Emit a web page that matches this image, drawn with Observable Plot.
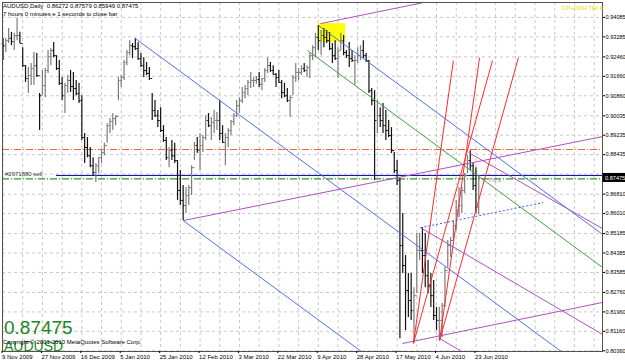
<!DOCTYPE html>
<html><head><meta charset="utf-8">
<script src="https://cdn.jsdelivr.net/npm/d3@7"></script>
<script src="https://cdn.jsdelivr.net/npm/@observablehq/plot@0.6"></script>
<style>
body{margin:0;background:#fff;}
#chart{position:relative;width:625px;height:363px;overflow:hidden;}
</style></head><body><div id="chart"></div>
<script>
// ---- data (AUDUSD daily, 9 Nov 2009 .. 24 Jun 2010), bar index 0..169 ----
const firstOpen = 0.9300;
const highs = [
0.9322,0.9322,0.9363,0.9347,0.9343,0.9404,0.9347,0.9284,0.9210,0.9202,
0.9219,0.9264,0.9260,0.9095,0.9190,0.9198,0.9272,0.9280,0.9305,0.9251,
0.9231,0.9161,0.9137,0.9169,0.9190,0.9182,0.9149,0.9137,0.9086,0.8931,
0.8914,0.8873,0.8831,0.8807,0.8831,0.8860,0.8890,0.8972,0.8992,0.9013,
0.9004,0.9161,0.9169,0.9231,0.9272,0.9313,0.9301,0.9322,0.9305,0.9260,
0.9243,0.9223,0.9202,0.9095,0.9066,0.9025,0.9037,0.8963,0.8914,0.8873,
0.8902,0.8890,0.8819,0.8778,0.8716,0.8708,0.8716,0.8798,0.8894,0.8914,
0.8931,0.8922,0.9004,0.9013,0.8996,0.9025,0.9017,0.9066,0.8963,0.8931,
0.8951,0.8984,0.9013,0.9066,0.9078,0.9120,0.9128,0.9149,0.9182,0.9161,
0.9165,0.9182,0.9157,0.9198,0.9243,0.9223,0.9210,0.9178,0.9190,0.9149,
0.9137,0.9116,0.9086,0.9169,0.9219,0.9198,0.9210,0.9219,0.9210,0.9260,
0.9292,0.9343,0.9375,0.9355,0.9363,0.9355,0.9347,0.9301,0.9313,0.9284,
0.9343,0.9334,0.9272,0.9305,0.9272,0.9251,0.9284,0.9292,0.9313,0.9260,
0.9231,0.9116,0.9107,0.9066,0.9037,0.9054,0.9025,0.8984,0.8955,0.8852,
0.8819,0.8745,0.8601,0.8428,0.8354,0.8354,0.8296,0.8519,0.8519,0.8543,
0.8519,0.8408,0.8354,0.8325,0.8214,0.8214,0.8231,0.8379,0.8490,0.8502,
0.8572,0.8655,0.8708,0.8708,0.8766,0.8839,0.8860,0.8807,0.8790,0.87579];
const lows = [
0.9231,0.9264,0.9301,0.9292,0.9272,0.9313,0.9301,0.9202,0.9141,0.9095,
0.9128,0.9128,0.9161,0.8943,0.9086,0.9078,0.9178,0.9210,0.9243,0.9190,
0.9128,0.9066,0.9013,0.9095,0.9099,0.9066,0.9086,0.9054,0.8902,0.8807,
0.8831,0.8790,0.8757,0.8729,0.8766,0.8807,0.8839,0.8890,0.8931,0.8943,
0.8963,0.9066,0.9120,0.9149,0.9210,0.9251,0.9239,0.9272,0.9231,0.9202,
0.9161,0.9169,0.9149,0.8984,0.8996,0.8955,0.8935,0.8894,0.8819,0.8790,
0.8819,0.8807,0.8655,0.8634,0.8572,0.8601,0.8634,0.8675,0.8819,0.8848,
0.8778,0.8852,0.8902,0.8955,0.8902,0.8931,0.8943,0.8902,0.8890,0.8798,
0.8873,0.8922,0.8963,0.8996,0.9013,0.9054,0.9074,0.9086,0.9116,0.9120,
0.9133,0.9120,0.9107,0.9141,0.9178,0.9182,0.9169,0.9120,0.9137,0.9074,
0.9078,0.9058,0.8996,0.9086,0.9141,0.9149,0.9169,0.9182,0.9161,0.9157,
0.9231,0.9243,0.9272,0.9251,0.9284,0.9301,0.9272,0.9219,0.9231,0.9157,
0.9272,0.9251,0.9239,0.9202,0.9223,0.9128,0.9219,0.9231,0.9239,0.9223,
0.9095,0.9045,0.8737,0.8931,0.8955,0.8931,0.8902,0.8914,0.8848,0.8766,
0.8716,0.8086,0.8354,0.8119,0.8173,0.8161,0.8066,0.8272,0.8408,0.8354,
0.8296,0.8272,0.8214,0.8161,0.8119,0.8078,0.8090,0.8214,0.8379,0.8420,
0.8490,0.8531,0.8584,0.8601,0.8684,0.8766,0.8778,0.8696,0.8601,0.85949];
const closes = [
0.9292,0.9313,0.9322,0.9309,0.9334,0.9334,0.9301,0.9210,0.9157,0.9169,
0.9198,0.9210,0.9169,0.9086,0.9128,0.9190,0.9247,0.9272,0.9251,0.9198,
0.9137,0.9086,0.9128,0.9149,0.9124,0.9116,0.9095,0.9066,0.8914,0.8873,
0.8839,0.8798,0.8770,0.8798,0.8831,0.8852,0.8881,0.8963,0.8980,0.8992,
0.9000,0.9149,0.9161,0.9223,0.9264,0.9292,0.9288,0.9280,0.9239,0.9210,
0.9190,0.9178,0.9157,0.9025,0.9004,0.8984,0.8943,0.8902,0.8831,0.8860,
0.8839,0.8819,0.8696,0.8655,0.8634,0.8675,0.8708,0.8790,0.8881,0.8860,
0.8881,0.8914,0.8984,0.8963,0.8976,0.8984,0.8984,0.8931,0.8894,0.8914,
0.8943,0.8980,0.9004,0.9045,0.9066,0.9099,0.9116,0.9141,0.9149,0.9149,
0.9153,0.9133,0.9157,0.9190,0.9210,0.9190,0.9174,0.9161,0.9141,0.9099,
0.9086,0.9066,0.9078,0.9161,0.9182,0.9182,0.9198,0.9190,0.9202,0.9251,
0.9284,0.9326,0.9313,0.9334,0.9326,0.9313,0.9280,0.9251,0.9239,0.9272,
0.9313,0.9264,0.9251,0.9239,0.9231,0.9231,0.9251,0.9272,0.9251,0.9231,
0.9107,0.9066,0.8984,0.9004,0.8984,0.8963,0.8943,0.8922,0.8860,0.8778,
0.8737,0.8469,0.8387,0.8284,0.8243,0.8202,0.8263,0.8449,0.8449,0.8428,
0.8345,0.8304,0.8263,0.8181,0.8161,0.8161,0.8222,0.8366,0.8469,0.8490,
0.8551,0.8613,0.8634,0.8696,0.8757,0.8819,0.8798,0.8716,0.8627,0.87475];

const dateLabels = ["9 Nov 2009","27 Nov 2009","16 Dec 2009","5 Jan 2010","25 Jan 2010","12 Feb 2010",
  "3 Mar 2010","22 Mar 2010","9 Apr 2010","28 Apr 2010","17 May 2010","4 Jun 2010","23 Jun 2010"];
const dateLabelBars = [0,14,28,42,56,70,84,98,112,126,140,154,168];
const priceGrid = [0.94085,0.93285,0.92460,0.91660,0.90860,0.90035,0.89235,0.88435,0.87635,
  0.86810,0.86010,0.85185,0.84385,0.83585,0.82760,0.81960,0.81160,0.80360];
// 0.87635 is hidden behind the current-price box, so it carries no label
const priceLabels = [0.94085,0.93285,0.92460,0.91660,0.90860,0.90035,0.89235,0.88435,
  0.86810,0.86010,0.85185,0.84385,0.83585,0.82760,0.81960,0.81160,0.80360];
const gridBars = [0,7,14,21,28,35,42,49,56,63,70,77,84,91,98,105,112,119,126,133,140,147,154,161,168,175,182,189,196,203,210];

// drawn objects (bar index, price)
const blueLines = [
  {i1:112.1,p1:0.9375,i2:213,p2:0.8515},
  {i1:47,p1:0.9322,i2:213,p2:0.7908},
  {i1:64,p1:0.8572,i2:213,p2:0.7303}];
const greenLines = [{i1:108.2,p1:0.9272,i2:213,p2:0.8379}];
const magentaLines = [
  {i1:64,p1:0.8572,i2:213,p2:0.8918},
  {i1:112.8,p1:0.9383,i2:213,p2:0.9621},
  {i1:148.3,p1:0.8543,i2:213,p2:0.8103},
  {i1:141.9,p1:0.8066,i2:213,p2:0.8235},
  {i1:165.4,p1:0.8852,i2:213,p2:0.8539},
  {i1:155,p1:0.8087,i2:213,p2:0.7695}];
const redLines = [
  {i1:145.8,p1:0.8066,i2:160.0,p2:0.9231},
  {i1:145.8,p1:0.8066,i2:173.9,p2:0.9231},
  {i1:155.1,p1:0.8078,i2:169.3,p2:0.9243},
  {i1:155.1,p1:0.8078,i2:183.1,p2:0.9243}];
const dottedLines = [{i1:148.3,p1:0.8543,i2:191.9,p2:0.8646}];
const yellowBox = [{i1:112.1,i2:121.7,p1:0.9383,p2:0.9305}];
const orderPrice = 0.8744, navyPrice = 0.8758, orangePrice = 0.8865, navyStart = 19;
const lastPrice = 0.87475;

const bars = highs.map((h,i)=>({i, high:h, low:lows[i], close:closes[i], open: i===0?firstOpen:closes[i-1]}));
const upC = "#7c7c7c", dnC = "#111";
const col = d => d.close >= d.open ? upC : dnC;
const link = (data, stroke, extra={}) => Plot.link(data, {x1:"i1",y1:"p1",x2:"i2",y2:"p2",stroke,strokeWidth:1,clip:true,...extra});

const plot = Plot.plot({
  width:625, height:363,
  marginLeft:2, marginRight:23, marginTop:2, marginBottom:12,
  x:{type:"linear", domain:[-0.18,212.97]},
  y:{type:"linear", domain:[0.8033,0.9470]},
  style:{fontFamily:"'Liberation Sans',Arial,sans-serif", fontSize:"6px", background:"#fff", color:"#000"},
  marks:[
    Plot.ruleY(priceGrid,{stroke:"#c8c8c8",strokeDasharray:"3,3"}),
    Plot.ruleX(gridBars,{stroke:"#c8c8c8",strokeDasharray:"3,3"}),
    Plot.rect(yellowBox,{x1:"i1",x2:"i2",y1:"p1",y2:"p2",fill:"#ffff00"}),
    Plot.ruleY([orangePrice],{stroke:"#f06838",strokeDasharray:"7,2,1,2",strokeWidth:1.1}),
    Plot.ruleY([navyPrice],{x1:navyStart,x2:212.97,stroke:"#0000a8",strokeWidth:1}),
    Plot.ruleY([orderPrice],{stroke:"#22a022",strokeDasharray:"7,2,1,2",strokeWidth:1.2}),
    Plot.ruleX(bars,{x:"i",y1:"low",y2:"high",stroke:col,strokeWidth:1.2}),
    Plot.link(bars,{x1:d=>d.i-0.5,x2:"i",y1:"open",y2:"open",stroke:col,strokeWidth:1}),
    Plot.link(bars,{x1:"i",x2:d=>d.i+0.5,y1:"close",y2:"close",stroke:col,strokeWidth:1}),
    link(blueLines,"#5070f0"),
    link(greenLines,"#40a040"),
    link(magentaLines,"#b050c0"),
    link(redLines,"#ff2a2a"),
    link(dottedLines,"#4060f0",{strokeDasharray:"2,2"}),
    Plot.frame({stroke:"#505050"}),
    Plot.axisY({anchor:"right",ticks:priceLabels,tickFormat:d=>d.toFixed(5),tickSize:2,tickPadding:1,fontSize:5.6,textAnchor:"start"}),
    Plot.axisX({anchor:"bottom",ticks:dateLabelBars,tickFormat:d=>dateLabels[dateLabelBars.indexOf(d)],tickSize:2,tickPadding:1,fontSize:6,textAnchor:"start",dx:-1})
  ]
});
document.getElementById("chart").appendChild(plot);

const svg = d3.select(plot);
const ys = plot.scale("y");
const F = "'Liberation Sans',Arial,sans-serif";
function txt(x,y,s,opt={}){
  return svg.append("text").attr("x",x).attr("y",y).text(s)
    .attr("text-anchor","start")
    .attr("font-family",F).attr("font-size",opt.size||6).attr("fill",opt.fill||"#000");
}
// current price box on the axis
const yl = ys.apply(lastPrice);
svg.append("rect").attr("x",602.5).attr("y",yl-4.5).attr("width",23).attr("height",9).attr("fill","#000");
txt(605,yl+2.1,lastPrice.toFixed(5),{fill:"#fff",size:5.6});
// header
txt(3,8,"AUDUSD,Daily  0.86272 0.87579 0.85949 0.87475");
txt(3,15.5,"7 hours 0 minutes e 1 seconds to close bar");
// order label
txt(5,ys.apply(orderPrice)-2,"#2671880 sell",{fill:"#303030"});
txt(488,182,"7:0:1",{fill:"#a070b0"});
txt(562,10,"CP+DDH TRI E",{fill:"#e0e000"});
// bottom-left
txt(4,334,"0.87475",{size:19,fill:"#1c861c"});
txt(4,351,"AUDUSD",{size:14,fill:"#1c861c"});
txt(3,344,"Copyright \u00a9 2001-2010 MetaQuotes Software Corp.");
</script></body></html>
